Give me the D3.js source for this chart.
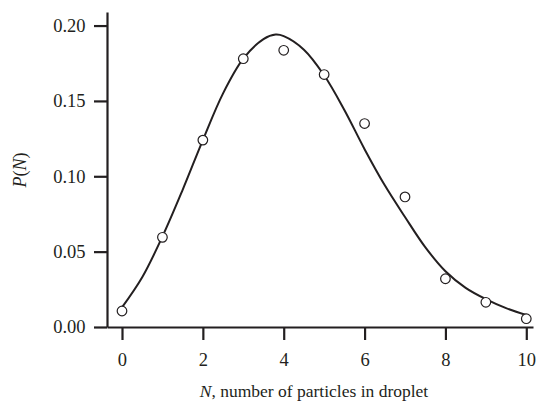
<!DOCTYPE html>
<html>
<head>
<meta charset="utf-8">
<script src="https://cdn.jsdelivr.net/npm/d3@7"></script>
<style>
  html, body { margin: 0; padding: 0; background: #fff; }
  svg { display: block; }
  text { font-family: "Liberation Serif", "Times New Roman", serif; fill: #231f20; }
</style>
</head>
<body>
<svg id="chart" width="536" height="401"></svg>
<script>
// Measured data points (N, P(N))
const pointN = [0, 1, 2, 3, 4, 5, 6, 7, 8, 9, 10];
const pointP = [0.0106, 0.0595, 0.124, 0.178, 0.1836, 0.1675, 0.1350, 0.0863, 0.032, 0.0164, 0.0055];

// Fitted curve
const curveN = [0, 0.5, 1, 1.5, 2, 2.5, 3, 3.5, 3.8, 4, 4.5, 5, 5.5, 6, 6.5, 7, 7.5, 8, 8.5, 9, 9.5, 10];
const curveP = [0.013, 0.033, 0.060, 0.091, 0.124, 0.155, 0.178, 0.191, 0.194, 0.193, 0.184, 0.167, 0.144, 0.118, 0.094, 0.073, 0.053, 0.037, 0.026, 0.0185, 0.0125, 0.008];

// Tick labels
const xTicks = [0, 2, 4, 6, 8, 10];
const yTicks = [0.00, 0.05, 0.10, 0.15, 0.20];

const ink = "#231f20";
const svg = d3.select("#chart");

const x = d3.scaleLinear().domain([-0.371, 10.166]).range([107, 533]);
const y = d3.scaleLinear().domain([0, 0.209]).range([327, 12]);

// Axes
const xAxis = d3.axisBottom(x).tickValues(xTicks).tickSize(13).tickPadding(13).tickSizeOuter(0)
  .tickFormat(d3.format("d"));
const yAxis = d3.axisLeft(y).tickValues(yTicks).tickSize(13).tickPadding(8.5).tickSizeOuter(0)
  .tickFormat(d3.format(".2f"));

const gx = svg.append("g").attr("transform", "translate(0,327)").call(xAxis);
const gy = svg.append("g").attr("transform", "translate(107,0)").call(yAxis);

[gx, gy].forEach(g => {
  g.select(".domain").attr("stroke", ink).attr("stroke-width", 2.2);
  g.selectAll(".tick line").attr("stroke", ink).attr("stroke-width", 2.2);
  g.selectAll(".tick text").attr("fill", ink)
    .style("font-family", "'Liberation Serif', 'Times New Roman', serif")
    .style("font-size", "18.5px");
});

// Curve
const line = d3.line()
  .x((d, i) => x(curveN[i]))
  .y((d, i) => y(curveP[i]))
  .curve(d3.curveCatmullRom.alpha(0.5));

svg.append("path")
  .datum(curveP)
  .attr("d", line)
  .attr("fill", "none")
  .attr("stroke", ink)
  .attr("stroke-width", 2);

// Points
svg.append("g").selectAll("circle")
  .data(pointP)
  .join("circle")
  .attr("cx", (d, i) => x(pointN[i]))
  .attr("cy", d => y(d))
  .attr("r", 4.8)
  .attr("fill", "#fff")
  .attr("stroke", ink)
  .attr("stroke-width", 1.2);

// Axis titles
const xt = svg.append("text")
  .attr("x", 314)
  .attr("y", 397)
  .attr("text-anchor", "middle")
  .style("font-size", "17.5px");
xt.append("tspan").style("font-style", "italic").text("N");
xt.append("tspan").text(", number of particles in droplet");

const yt = svg.append("text")
  .attr("transform", "translate(26,170) rotate(-90)")
  .attr("text-anchor", "middle")
  .style("font-size", "18px");
yt.append("tspan").style("font-style", "italic").text("P");
yt.append("tspan").text("(");
yt.append("tspan").style("font-style", "italic").text("N");
yt.append("tspan").text(")");
</script>
</body>
</html>
